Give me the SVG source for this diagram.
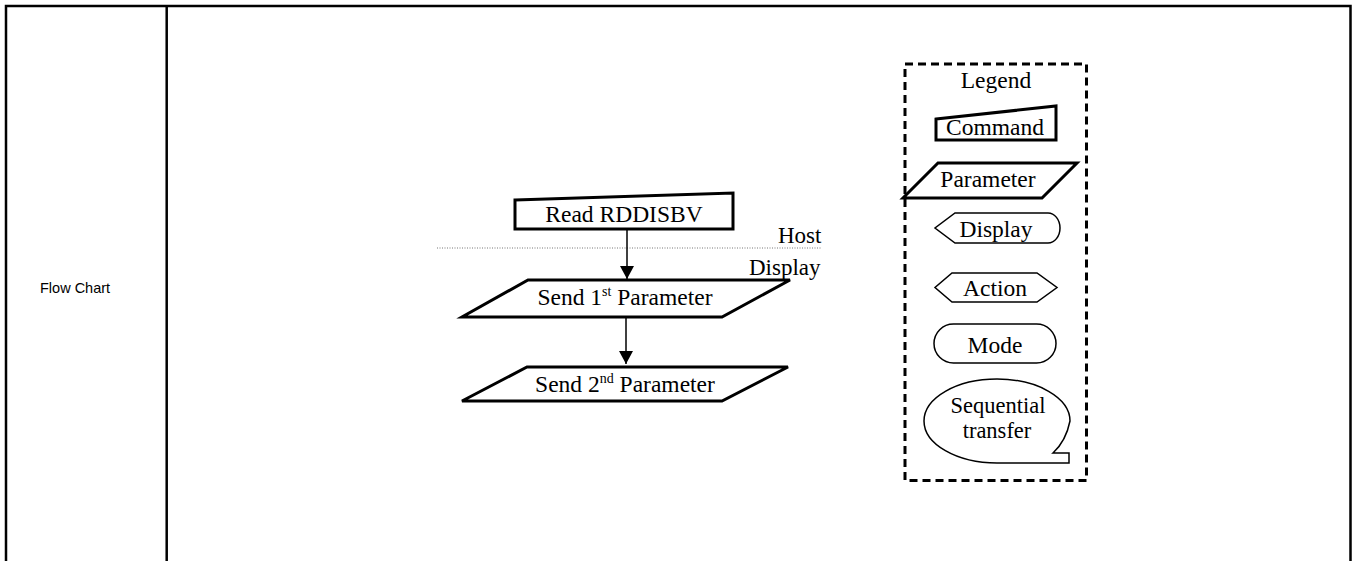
<svg xmlns="http://www.w3.org/2000/svg" width="1357" height="561" viewBox="0 0 1357 561">
<defs>
<style>
.tbl{stroke:#000;stroke-width:2.5;fill:none}
.thick{fill:#fff;stroke:#000;stroke-width:3;stroke-linejoin:miter}
.thin{fill:#fff;stroke:#000;stroke-width:1.5}
.t{font-family:"Liberation Serif","Times New Roman",Times,serif;font-size:23.5px;fill:#000;text-anchor:middle}
.tl{font-family:"Liberation Serif","Times New Roman",Times,serif;font-size:23px;fill:#000}
.sup{font-size:14px}
.lbl{font-family:"Liberation Sans",Arial,sans-serif;font-size:14.5px;fill:#000}
.conn{stroke:#000;stroke-width:1.5;fill:none}
</style>
<marker id="ah" markerWidth="14" markerHeight="14" viewBox="0 0 14 14" refX="13" refY="7" orient="auto" markerUnits="userSpaceOnUse">
<path d="M0,0 L13,7 L0,14 Z" fill="#000"/>
</marker>
</defs>
<rect width="1357" height="561" fill="#fff"/>
<g id="table">
<path class="tbl" d="M6,561 V6 H1350.5 V561 M166.7,6 V561"/>
<text class="lbl" x="40" y="293">Flow Chart</text>
</g>
<g id="boundary">
<line x1="437" y1="248" x2="822" y2="248" stroke="#777" stroke-width="1" stroke-dasharray="1,1.5"/>
<text class="tl" x="778" y="243">Host</text>
<text class="tl" x="749" y="275">Display</text>
</g>
<g id="connectors">
<line class="conn" x1="627" y1="229" x2="627" y2="279" marker-end="url(#ah)"/>
<line class="conn" x1="626" y1="317" x2="626" y2="364" marker-end="url(#ah)"/>
</g>
<g id="read-rddisbv">
<polygon class="thick" points="515,200 733,193 733,229 515,229"/>
<text class="t" x="624" y="222">Read RDDISBV</text>
</g>
<g id="send-1st">
<polygon class="thick" points="528,280 790,280 722,317 462,317"/>
<text class="t" x="625" y="305">Send 1<tspan class="sup" dy="-9">st</tspan><tspan dy="9"> Parameter</tspan></text>
</g>
<g id="send-2nd">
<polygon class="thick" points="527,367 788,367 722,401 462,401"/>
<text class="t" x="625" y="392">Send 2<tspan class="sup" dy="-9">nd</tspan><tspan dy="9"> Parameter</tspan></text>
</g>
<g id="legend">
<rect x="905" y="64" width="181.5" height="416.5" fill="none" stroke="#000" stroke-width="3" stroke-dasharray="8,5"/>
<text class="t" x="996" y="88">Legend</text>
<polygon class="thick" points="936,119 1056,106 1056,140 936,140"/>
<text class="t" x="995" y="135">Command</text>
<polygon class="thick" points="938,163 1077,163 1042,198 903,198"/>
<text class="t" x="988" y="187">Parameter</text>
<path class="thin" d="M955,213 H1048 A12,15 0 0 1 1048,243 H955 L935,228 Z"/>
<text class="t" x="996" y="237">Display</text>
<polygon class="thin" points="952,273 1037,273 1057,287.5 1037,302 952,302 935,287.5"/>
<text class="t" x="995" y="296">Action</text>
<rect class="thin" x="934" y="324" width="122" height="39" rx="19.5" ry="19.5"/>
<text class="t" x="995" y="353">Mode</text>
<path class="thin" d="M997,463 A73,42 0 1 1 1070,421 Q1066,441 1053,453 L1069,453 L1069,463 Z"/>
<text class="t" x="998" y="413" style="font-size:22.5px">Sequential</text>
<text class="t" x="997" y="438" style="font-size:22.5px">transfer</text>
</g>
</svg>
